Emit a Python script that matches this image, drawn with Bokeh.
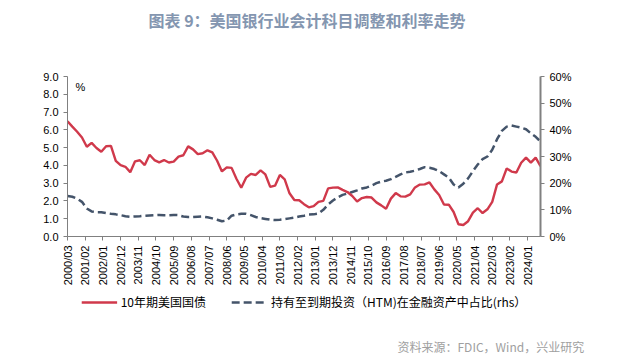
from bokeh.plotting import figure
from bokeh.layouts import column
from bokeh.models import (Range1d, LinearAxis, FixedTicker, Label, Legend, LegendItem, Title)
from bokeh.embed import file_html
from bokeh.resources import INLINE

# ---------------- data ----------------
years = list(range(2000, 2025))
quarter_months = [3, 6, 9, 12]
quarters = [f"{y}/{m:02d}" for y in years for m in quarter_months][:99]  # 2000/03 .. 2024/09

ust10y = [
    6.48, 6.18, 5.89, 5.57,
    5.05, 5.27, 4.98, 4.77,
    5.08, 5.10, 4.26, 4.01,
    3.92, 3.62, 4.23, 4.29,
    4.02, 4.60, 4.30, 4.17,
    4.30, 4.16, 4.21, 4.49,
    4.57, 5.07, 4.90, 4.63,
    4.68, 4.85, 4.73, 4.26,
    3.66, 3.89, 3.86, 3.25,
    2.74, 3.31, 3.52, 3.46,
    3.72, 3.49, 2.79, 2.86,
    3.46, 3.21, 2.43, 2.05,
    2.04, 1.82, 1.64, 1.71,
    1.95, 2.00, 2.71, 2.75,
    2.76, 2.62, 2.50, 2.28,
    1.97, 2.16, 2.22, 2.19,
    1.92, 1.75, 1.56, 2.13,
    2.44, 2.26, 2.24, 2.37,
    2.76, 2.92, 2.93, 3.04,
    2.65, 2.33, 1.80, 1.79,
    1.38, 0.69, 0.65, 0.86,
    1.34, 1.59, 1.32, 1.53,
    1.95, 2.93, 3.10, 3.83,
    3.65, 3.60, 4.15, 4.44,
    4.16, 4.44, 3.95,
]

htm_share = [
    15.2, 14.9, 14.2, 13.0,
    10.5, 9.4, 9.1, 9.1,
    8.8, 8.5, 8.3, 8.0,
    7.6, 7.4, 7.5, 7.6,
    7.8, 7.9, 8.0, 8.1,
    8.0, 8.0, 8.1, 8.0,
    7.5, 7.3, 7.3, 7.4,
    7.5, 7.2, 6.8, 6.3,
    5.7, 6.0, 7.8, 8.3,
    8.5, 8.5, 8.0, 7.3,
    6.9, 6.6, 6.3, 6.2,
    6.3, 6.5, 6.8, 7.1,
    7.5, 7.8, 8.2, 8.3,
    8.6, 10.0, 12.0, 13.5,
    14.7, 15.6, 16.1, 16.7,
    17.3, 18.0, 18.4, 19.1,
    20.0, 20.6, 20.9, 21.5,
    22.4, 23.3, 24.0, 24.3,
    24.7, 25.3, 26.0, 25.8,
    25.3, 24.5, 23.3, 22.1,
    19.5, 18.4, 19.8, 21.8,
    24.5, 27.0, 29.0, 30.0,
    32.5, 36.5, 39.6, 41.2,
    41.6, 41.2, 40.8, 40.2,
    38.7, 37.4, 35.6,
]

tick_labels = [
    "2000/03", "2001/02", "2002/01", "2002/12", "2003/11", "2004/10", "2005/09",
    "2006/08", "2007/07", "2008/06", "2009/05", "2010/04", "2011/03", "2012/02",
    "2013/01", "2013/12", "2014/11", "2015/10", "2016/09", "2017/08", "2018/07",
    "2019/06", "2020/05", "2021/04", "2022/03", "2023/02", "2024/01",
]
left_ticks = [0, 1, 2, 3, 4, 5, 6, 7, 8, 9]
right_ticks = [0, 10, 20, 30, 40, 50, 60]

title_text = "图表 9：美国银行业会计科目调整和利率走势"
source_text = "资料来源：FDIC，Wind，兴业研究"
name_red = "10年期美国国债"
name_blue = "持有至到期投资（HTM)在金融资产中占比(rhs）"


def month_index(s):
    y, m = s.split("/")
    return (int(y) - 2000) * 12 + (int(m) - 3)


xq = [month_index(q) for q in quarters]
xt = [month_index(t) for t in tick_labels]

# ---------------- styles ----------------
RED = "#D0394B"
BLUE = "#44546A"
AXIS = "#808080"
TICKFONT = "Liberation Sans"
CJK = "Noto Sans CJK SC"
W = 615

# ---------------- main chart ----------------
p = figure(width=W, height=288, output_backend="svg", toolbar_location=None,
           title=None,
           x_range=Range1d(0, 294), y_range=Range1d(0, 9),
           min_border_left=67, min_border_right=75, min_border_top=76,
           min_border_bottom=50, x_axis_location=None, y_axis_location=None)
p.outline_line_color = None
p.grid.visible = False
p.background_fill_color = "white"
p.border_fill_color = "white"
p.extra_y_ranges = {"rhs": Range1d(0, 60)}

xa = LinearAxis(ticker=FixedTicker(ticks=xt),
                major_label_overrides={t: l for t, l in zip(xt, tick_labels)})
xa.major_label_orientation = 1.5707963
ya = LinearAxis(ticker=FixedTicker(ticks=left_ticks),
                major_label_overrides={t: f"{t:.1f}" for t in left_ticks})
yr = LinearAxis(y_range_name="rhs", ticker=FixedTicker(ticks=right_ticks),
                major_label_overrides={t: f"{t}%" for t in right_ticks})
for ax in (xa, ya, yr):
    ax.axis_line_color = AXIS
    ax.axis_line_width = 1
    ax.major_tick_line_color = AXIS
    ax.major_tick_in = 0
    ax.major_tick_out = 4
    ax.minor_tick_line_color = None
    ax.major_label_text_font = TICKFONT
    ax.major_label_text_font_size = "11px"
    ax.major_label_text_color = "black"
    ax.major_label_standoff = 5
yr.axis_line_width = 2
p.add_layout(xa, "below")
p.add_layout(ya, "left")
p.add_layout(yr, "right")

p.line(xq, htm_share, y_range_name="rhs", line_color=BLUE, line_width=2.5, line_dash="8 4")
p.line(xq, ust10y, line_color=RED, line_width=2.4)

# chart title (spacer first, then the title further out)
p.add_layout(Title(text=" ", text_font_size="25px"), "above")
p.add_layout(Title(text=title_text, align="left", offset=81,
                   text_font=CJK, text_font_size="16px", text_font_style="bold",
                   text_color="#8496B0"), "above")

p.add_layout(Label(x=13, y=150, x_units="screen", y_units="screen", text="%",
                   text_font=TICKFONT, text_font_size="11px", text_color="black",
                   text_align="center", text_baseline="middle"))

# ---------------- legend + source strip ----------------
f2 = figure(width=W, height=66, output_backend="svg", toolbar_location=None,
            title=None, x_range=Range1d(-2, -1), y_range=Range1d(-2, -1),
            min_border=0, x_axis_location=None, y_axis_location=None)
f2.outline_line_color = None
f2.grid.visible = False
f2.border_fill_color = "white"
f2.background_fill_color = "white"
# same series, outside this strip's view: only their legend swatches show
k_red = f2.line(xq, ust10y, line_color=RED, line_width=2.4)
k_blue = f2.line(xq, htm_share, line_color=BLUE, line_width=2.5, line_dash="8 4")

# stacked upward from the (empty) strip frame: source, spacer, legend on top
f2.add_layout(Title(text=source_text, align="left", offset=330, standoff=0,
                    text_font=CJK, text_font_size="12px", text_font_style="normal",
                    text_color="#A0A0A0"), "above")
f2.add_layout(Title(text=" ", text_font_size="6px"), "above")
legend = Legend(items=[LegendItem(label=name_red, renderers=[k_red]),
                       LegendItem(label=name_blue, renderers=[k_blue])],
                orientation="horizontal", location="top_center",
                padding=0, margin=5, spacing=25, glyph_width=36, glyph_height=12,
                label_height=12, label_standoff=4,
                label_text_font=CJK, label_text_font_size="12px",
                label_text_color="black", border_line_color=None,
                background_fill_alpha=0)
f2.add_layout(legend, "above")

layout = column(p, f2, spacing=0)
open("out.html", "w").write(file_html(layout, INLINE))
